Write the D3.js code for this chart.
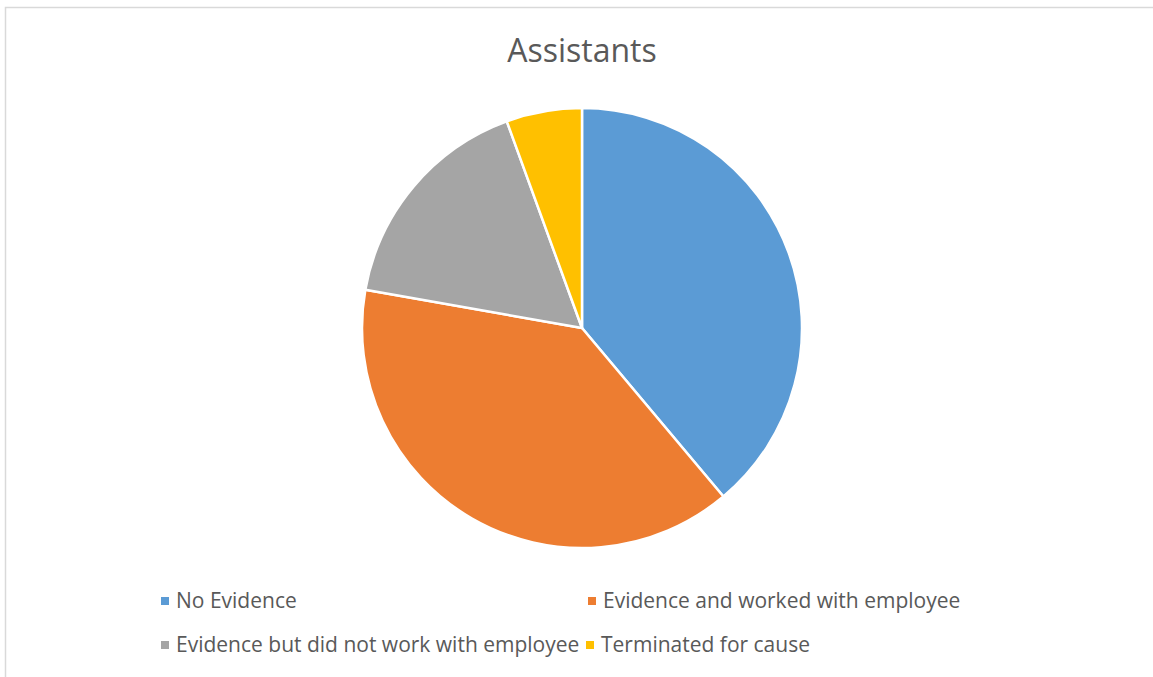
<!DOCTYPE html>
<html>
<head>
<meta charset="utf-8">
<script src="https://cdn.jsdelivr.net/npm/d3@7"></script>
<style>
  body { margin: 0; background: #fff; }
  text { font-family: "Open Sans", sans-serif; }
</style>
</head>
<body>
<div id="chart-container"></div>
<script>
// Chart data
const categories = ["No Evidence", "Evidence and worked with employee",
                    "Evidence but did not work with employee", "Terminated for cause"];
const counts = [7, 7, 3, 1];
const colors = ["#5b9bd5", "#ed7d31", "#a5a5a5", "#ffc000"];
const title = "Assistants";

const width = 1153, height = 677;

const svg = d3.select("#chart-container")
    .append("svg")
    .attr("width", width)
    .attr("height", height);

// chart frame (only top and left edges are visible in the picture)
svg.append("path")
    .attr("d", `M5.5,${height} V7.5 H${width}`)
    .attr("fill", "none")
    .attr("stroke", "#d9d9d9")
    .attr("stroke-width", 1.5);

// Title
svg.append("text")
    .attr("x", 582)
    .attr("y", 62)
    .attr("text-anchor", "middle")
    .attr("font-size", 32)
    .attr("fill", "#595959")
    .text(title);

// Pie
const cx = 582, cy = 328, r = 220;
const pie = d3.pie().sort(null).value(d => d);
const arc = d3.arc().innerRadius(0).outerRadius(r);
const color = d3.scaleOrdinal().domain(categories).range(colors);

const g = svg.append("g").attr("transform", `translate(${cx},${cy})`);
g.selectAll("path")
    .data(pie(counts))
    .join("path")
    .attr("d", arc)
    .attr("fill", (d, i) => color(categories[i]))
    .attr("stroke", "#fff")
    .attr("stroke-width", 2.5)
    .attr("stroke-linejoin", "round");

// Legend, two rows x two columns
const legendPos = [[161, 601], [588, 601], [161, 645], [586, 645]];
const legend = svg.selectAll("g.legend")
    .data(categories)
    .join("g")
    .attr("class", "legend")
    .attr("transform", (d, i) => `translate(${legendPos[i][0]},${legendPos[i][1]})`);

legend.append("rect")
    .attr("x", 0).attr("y", -4)
    .attr("width", 8).attr("height", 8)
    .attr("fill", d => color(d));

legend.append("text")
    .attr("x", 15)
    .attr("y", 0)
    .attr("dy", "0.35em")
    .attr("font-size", 21)
    .attr("fill", "#595959")
    .text(d => d);
</script>
</body>
</html>
